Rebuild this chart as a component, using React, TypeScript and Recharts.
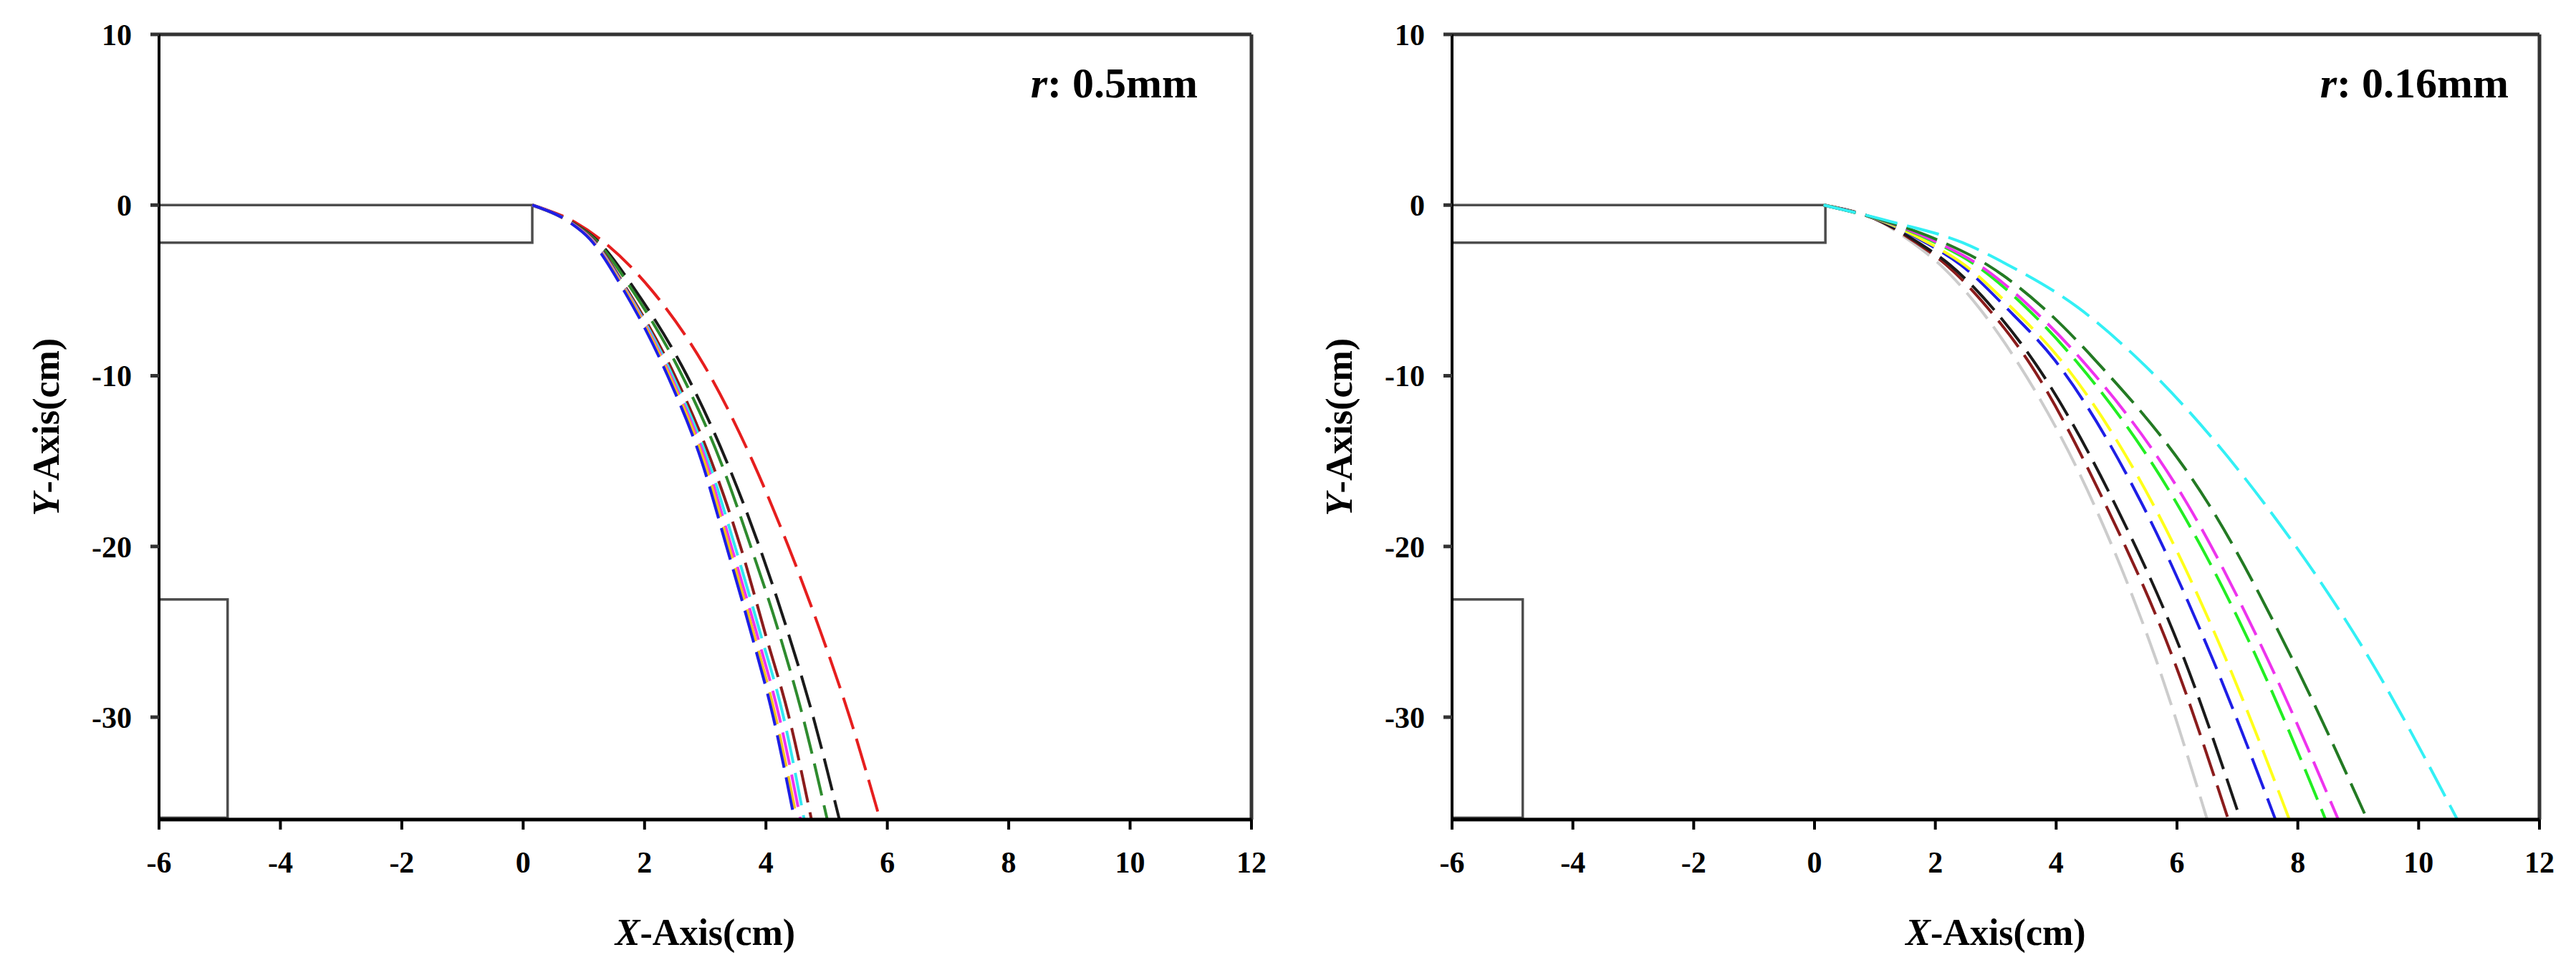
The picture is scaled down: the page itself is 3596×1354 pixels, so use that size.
import { LineChart, Line, XAxis, YAxis, ReferenceArea, ReferenceLine, Label } from 'recharts'

const FONT = '"Liberation Serif", "Times New Roman", serif'

const X_TICKS = [-6, -4, -2, 0, 2, 4, 6, 8, 10, 12]
const Y_TICKS = [10, 0, -10, -20, -30]

// left panel, r = 0.5mm : x position of each curve at these heights
const Y_LEVELS_A = [0, -1, -2, -5, -10, -15, -20, -25, -30, -36]
const A_BLUE = [0.15, 0.76, 1.1, 1.66, 2.38, 2.94, 3.35, 3.75, 4.12, 4.47]
const A_YELLOW = [0.15, 0.76, 1.11, 1.68, 2.41, 2.98, 3.39, 3.79, 4.16, 4.51]
const A_MAGENTA = [0.15, 0.77, 1.12, 1.69, 2.43, 3.01, 3.43, 3.84, 4.22, 4.57]
const A_CYAN = [0.15, 0.77, 1.13, 1.7, 2.46, 3.05, 3.49, 3.9, 4.29, 4.63]
const A_BROWN = [0.15, 0.78, 1.15, 1.72, 2.5, 3.1, 3.58, 3.98, 4.38, 4.75]
const A_GREEN = [0.15, 0.79, 1.18, 1.8, 2.62, 3.25, 3.75, 4.21, 4.61, 5.01]
const A_BLACK = [0.15, 0.8, 1.2, 1.85, 2.7, 3.35, 3.89, 4.36, 4.78, 5.21]
const A_RED = [0.15, 0.85, 1.27, 2.12, 3.08, 3.78, 4.37, 4.9, 5.38, 5.88]

// right panel, r = 0.16mm
const Y_LEVELS_B = [0, -1, -2.2, -3.5, -6, -9.1, -17.5, -26.6, -36]
const B_GRAY = [0.15, 1.1, 1.62, 2.08, 2.72, 3.34, 4.62, 5.65, 6.5]
const B_BROWN = [0.15, 1.12, 1.68, 2.18, 2.86, 3.53, 4.81, 5.94, 6.85]
const B_BLACK = [0.15, 1.13, 1.72, 2.24, 2.94, 3.62, 4.97, 6.12, 7.05]
const B_BLUE = [0.15, 1.16, 1.84, 2.42, 3.17, 3.98, 5.42, 6.59, 7.63]
const B_YELLOW = [0.15, 1.17, 1.88, 2.48, 3.26, 4.08, 5.6, 6.81, 7.86]
const B_LIME = [0.15, 1.2, 2.0, 2.66, 3.5, 4.32, 6.0, 7.33, 8.46]
const B_MAGENTA = [0.15, 1.21, 2.04, 2.72, 3.58, 4.43, 6.17, 7.5, 8.67]
const B_DARKGREEN = [0.15, 1.23, 2.14, 2.86, 3.78, 4.65, 6.52, 7.91, 9.15]
const B_CYAN = [0.15, 1.3, 2.45, 3.2, 4.36, 5.38, 7.45, 9.19, 10.64]

// nozzle and target outlines [x1, x2, y1, y2]
const BOXES_A = [[-6, 0.15, -2.2, 0], [-6, -4.87, -35.9, -23.1]]
const BOXES_B = [[-6, 0.18, -2.2, 0], [-6, -4.83, -35.9, -23.1]]

const SERIES_A = [
  { name: 'red', xs: A_RED, color: '#e61e1e' },
  { name: 'black', xs: A_BLACK, color: '#1a1a1a' },
  { name: 'green', xs: A_GREEN, color: '#2e8b2e' },
  { name: 'brown', xs: A_BROWN, color: '#8b1c1c' },
  { name: 'cyan', xs: A_CYAN, color: '#33e6f0' },
  { name: 'magenta', xs: A_MAGENTA, color: '#ee33ee' },
  { name: 'yellow', xs: A_YELLOW, color: '#f2c21a' },
  { name: 'blue', xs: A_BLUE, color: '#1e1ee6' },
]

const SERIES_B = [
  { name: 'gray', xs: B_GRAY, color: '#cccccc' },
  { name: 'brown', xs: B_BROWN, color: '#8b1c1c' },
  { name: 'black', xs: B_BLACK, color: '#1a1a1a' },
  { name: 'blue', xs: B_BLUE, color: '#1e1ee6' },
  { name: 'yellow', xs: B_YELLOW, color: '#ffff1a' },
  { name: 'lime', xs: B_LIME, color: '#22ee22' },
  { name: 'magenta', xs: B_MAGENTA, color: '#ee33ee' },
  { name: 'darkgreen', xs: B_DARKGREEN, color: '#237a23' },
  { name: 'cyan', xs: B_CYAN, color: '#33f0f5' },
]

const XTitle = ({ viewBox }: any) => (
  <text
    x={viewBox.x + viewBox.width / 2}
    y={viewBox.y + 175}
    textAnchor="middle"
    fontFamily={FONT}
    fontSize={52}
    fontWeight="bold"
    fill="#000"
  >
    <tspan fontStyle="italic">X</tspan>-Axis(cm)
  </text>
)

const YTitle = ({ viewBox }: any) => {
  const cx = viewBox.x + viewBox.width - 140
  const cy = viewBox.y + viewBox.height / 2
  return (
    <text
      x={cx}
      y={cy}
      textAnchor="middle"
      transform={`rotate(-90, ${cx}, ${cy})`}
      fontFamily={FONT}
      fontSize={52}
      fontWeight="bold"
      fill="#000"
    >
      <tspan fontStyle="italic">Y</tspan>-Axis(cm)
    </text>
  )
}

function Panel({ series, levels, boxes, radius, left, marginLeft, marginRight, rightInset }: any) {
  const width = 1795
  return (
    <div style={{ position: 'absolute', left, top: 0 }}>
      <LineChart
        width={width}
        height={1354}
        margin={{ top: 48, right: marginRight, left: marginLeft, bottom: 35 }}
        style={{ fontFamily: FONT }}
      >
        <XAxis
          type="number"
          dataKey="x"
          domain={[-6, 12]}
          ticks={X_TICKS}
          allowDataOverflow
          height={175}
          tickSize={14}
          tickMargin={30}
          axisLine={{ stroke: '#000', strokeWidth: 5 }}
          tickLine={{ stroke: '#000', strokeWidth: 4 }}
          tick={{ fontSize: 42, fontWeight: 'bold', fill: '#000', fontFamily: FONT }}
        >
          <Label content={XTitle} />
        </XAxis>
        <YAxis
          type="number"
          dataKey="y"
          domain={[-36, 10]}
          ticks={Y_TICKS}
          allowDataOverflow
          width={190}
          tickSize={12}
          tickMargin={26}
          axisLine={{ stroke: '#000', strokeWidth: 4 }}
          tickLine={{ stroke: '#333', strokeWidth: 5 }}
          tick={{ fontSize: 42, fontWeight: 'bold', fill: '#000', fontFamily: FONT }}
        >
          <Label content={YTitle} />
        </YAxis>
        <ReferenceLine y={10} stroke="#333" strokeWidth={5}>
          <Label
            content={({ viewBox }: any) => (
              <text
                x={viewBox.x + viewBox.width - rightInset}
                y={viewBox.y + 88}
                textAnchor="end"
                fontFamily={FONT}
                fontSize={60}
                fontWeight="bold"
                fill="#000"
              >
                <tspan fontStyle="italic">r</tspan>: {radius}
              </text>
            )}
          />
        </ReferenceLine>
        <ReferenceLine x={12} stroke="#333" strokeWidth={5} />
        {boxes.map((b: number[], i: number) => (
          <ReferenceArea
            key={`box-${i}`}
            x1={b[0]}
            x2={b[1]}
            y1={b[2]}
            y2={b[3]}
            fill="none"
            fillOpacity={0}
            stroke="#4d4d4d"
            strokeWidth={3.5}
          />
        ))}
        {series.map((s: any) => (
          <Line
            key={s.name}
            data={levels.map((y: number, i: number) => ({ x: s.xs[i], y }))}
            dataKey="y"
            type="monotone"
            stroke={s.color}
            strokeWidth={4}
            strokeDasharray="46 14"
            dot={false}
            activeDot={false}
            isAnimationActive={false}
          />
        ))}
      </LineChart>
    </div>
  )
}

export default function App() {
  return (
    <div style={{ position: 'absolute', left: 0, top: 0, width: 3596, height: 1354, background: '#fff' }}>
      <Panel
        series={SERIES_A}
        levels={Y_LEVELS_A}
        boxes={BOXES_A}
        radius="0.5mm"
        left={0}
        marginLeft={32}
        marginRight={48}
        rightInset={75}
      />
      <Panel
        series={SERIES_B}
        levels={Y_LEVELS_B}
        boxes={BOXES_B}
        radius="0.16mm"
        left={1795}
        marginLeft={42}
        marginRight={45}
        rightInset={43}
      />
    </div>
  )
}
